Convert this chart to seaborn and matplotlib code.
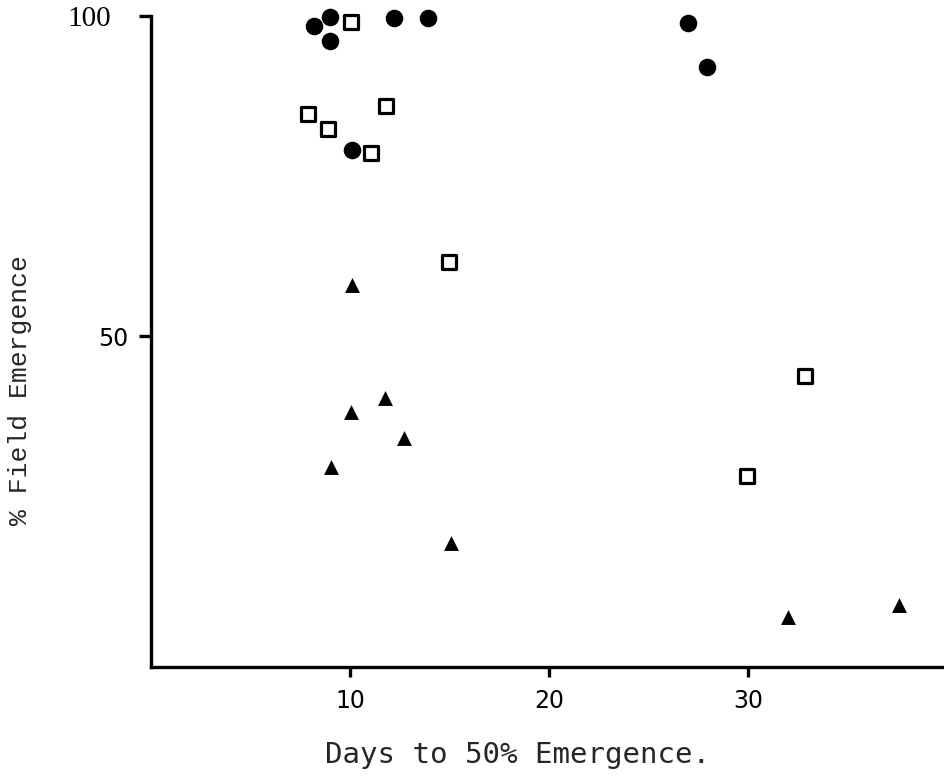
import matplotlib
matplotlib.use("Agg")
import matplotlib.pyplot as plt
import seaborn as sns
import pandas as pd

# ---- data ----
circle_days = [8.2, 9.0, 9.0, 10.1, 12.2, 13.9, 27.0, 27.95]
circle_emerg = [98.5, 99.8, 96.1, 79.1, 99.7, 99.7, 98.9, 92.0]

square_days = [10.05, 7.9, 8.9, 11.05, 11.8, 15.0, 32.85, 29.95]
square_emerg = [99.1, 84.7, 82.3, 78.6, 85.9, 61.6, 43.75, 28.1]

triangle_days = [10.1, 11.75, 10.05, 12.7, 9.05, 15.1, 32.0, 37.6]
triangle_emerg = [58.0, 40.3, 38.1, 34.1, 29.5, 17.7, 6.1, 8.0]

x_ticks = [10, 20, 30]
x_tick_labels = ["10", "20", "30"]
y_ticks = [50, 100]
y_tick_labels = ["50", "100"]

x_label = "Days to 50% Emergence."
y_label = "% Field Emergence"

df_c = pd.DataFrame({"days": circle_days, "emerg": circle_emerg})
df_s = pd.DataFrame({"days": square_days, "emerg": square_emerg})
df_t = pd.DataFrame({"days": triangle_days, "emerg": triangle_emerg})

sns.set_style("ticks")

fig = plt.figure(figsize=(9.45, 7.84), dpi=100)
ax = fig.add_axes([151 / 945, 1 - 667 / 784, 1 - 151 / 945, (667 - 16) / 784])

sns.scatterplot(data=df_c, x="days", y="emerg", ax=ax, marker="o", s=160,
                color="black", edgecolor="black", linewidth=0, clip_on=False, zorder=3)
sns.scatterplot(data=df_s, x="days", y="emerg", ax=ax, marker="s", s=95,
                facecolor="white", edgecolor="black", linewidth=2.3, clip_on=False, zorder=3)
sns.scatterplot(data=df_t, x="days", y="emerg", ax=ax, marker="^", s=115,
                color="black", edgecolor="black", linewidth=0, clip_on=False, zorder=3)

ax.set_xlim(0, 39.9)
ax.set_ylim(-1.7, 100)

sns.despine(ax=ax)
for sp in ("left", "bottom"):
    ax.spines[sp].set_linewidth(2.4)
    ax.spines[sp].set_color("black")

ax.set_xticks(x_ticks)
ax.set_xticklabels(x_tick_labels, fontsize=17, family="DejaVu Sans")
ax.set_yticks(y_ticks)
ax.set_yticklabels(y_tick_labels, fontsize=17)
ax.tick_params(axis="x", direction="out", length=7, width=2.4, pad=9, colors="black")
ax.tick_params(axis="y", direction="out", length=9, width=2.4, pad=7, colors="black")

ylabs = ax.get_yticklabels()
ylabs[0].set_family("DejaVu Sans")
ylabs[1].set_family("Liberation Serif")
ylabs[1].set_fontsize(21)
ax.yaxis.get_major_ticks()[1].set_pad(20)

ax.set_xlabel(x_label, fontsize=21, family="DejaVu Sans Mono")
ax.set_ylabel(y_label, fontsize=19, family="Liberation Mono")
ax.xaxis.set_label_coords(0.462, -0.113)
ax.yaxis.set_label_coords(-0.150, 0.425)

ax.grid(False)
fig.savefig("out.png", dpi=100)
